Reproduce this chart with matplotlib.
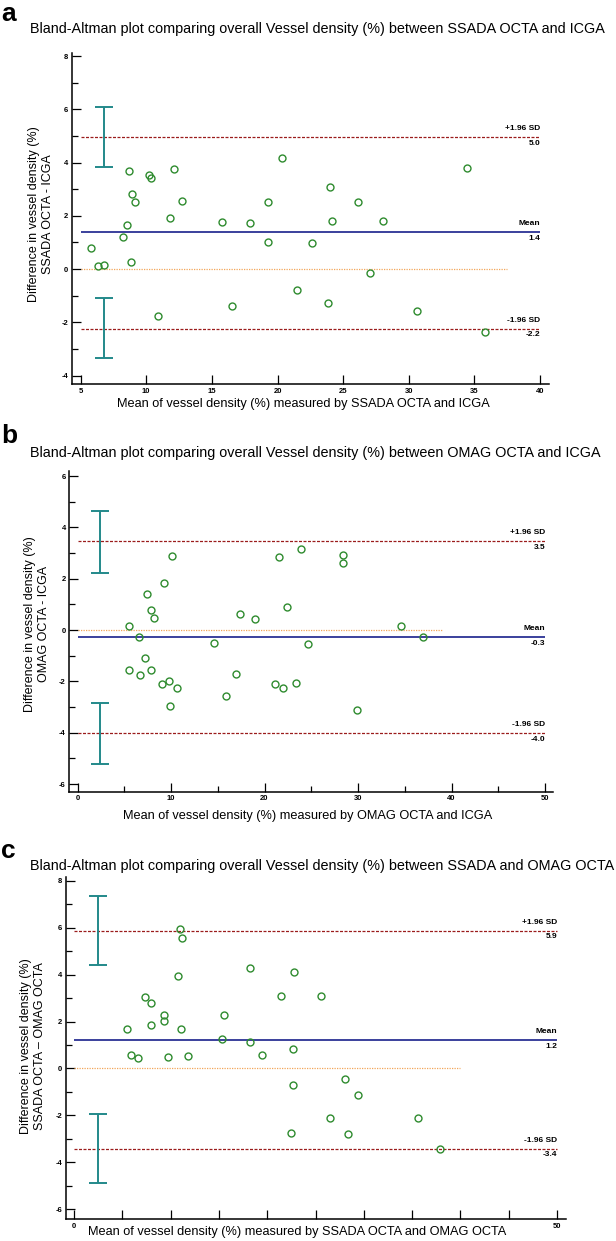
import numpy as np
import matplotlib.pyplot as plt
from matplotlib.ticker import MultipleLocator, FuncFormatter

plt.rcParams['font.family'] = ['Liberation Sans', 'DejaVu Sans']
plt.rcParams['axes.unicode_minus'] = False

W, H = 616, 1241

# Panel a: SSADA OCTA vs ICGA
a_mean = [5.80, 6.34, 6.76, 8.19, 8.54, 8.67, 8.81, 8.95, 9.15, 10.19, 10.39,
          10.90, 11.82, 12.09, 12.70, 15.80, 16.56, 17.93, 19.25, 19.30, 20.32,
          21.47, 22.63, 23.86, 24.00, 24.13, 26.13, 27.04, 28.03, 30.65, 34.45,
          35.77]
a_diff = [0.78, 0.11, 0.14, 1.21, 1.67, 3.69, 0.28, 2.82, 2.51, 3.55, 3.42,
          -1.78, 1.91, 3.76, 2.54, 1.77, -1.38, 1.74, 2.51, 1.00, 4.16,
          -0.80, 0.96, -1.28, 3.08, 1.80, 2.51, -0.14, 1.80, -1.58, 3.79,
          -2.35]
a_stats = [1.38, 4.96, -2.24]          # mean, +1.96 SD, -1.96 SD
a_ci_upper = [3.82, 6.09]
a_ci_lower = [-3.36, -1.10]

# Panel b: OMAG OCTA vs ICGA
b_mean = [5.49, 5.49, 6.58, 6.68, 7.17, 7.46, 7.84, 7.84, 8.18, 9.07, 9.30,
          9.80, 9.91, 10.08, 10.68, 14.61, 15.90, 16.98, 17.34, 19.02, 21.09,
          21.57, 21.93, 22.42, 23.39, 23.95, 24.61, 28.42, 28.42, 29.85, 34.61,
          36.92]
b_diff = [0.15, -1.57, -0.28, -1.74, -1.08, 1.42, 0.77, -1.54, 0.45, -2.12, 1.85,
          -1.99, -2.97, 2.87, -2.24, -0.49, -2.58, -1.71, 0.64, 0.44, -2.09,
          2.83, -2.27, 0.91, -2.05, 3.17, -0.55, 2.93, 2.62, -3.10, 0.17,
          -0.26]
b_stats = [-0.28, 3.46, -4.02]
b_ci_upper = [2.24, 4.62]
b_ci_lower = [-5.24, -2.84]

# Panel c: SSADA OCTA vs OMAG OCTA
c_mean = [5.50, 5.90, 6.64, 7.33, 7.98, 8.02, 9.32, 9.36, 9.73, 10.76, 10.96,
          11.03, 11.17, 11.81, 15.31, 15.51, 18.20, 18.22, 19.50, 21.41, 22.43,
          22.64, 22.72, 22.81, 25.52, 26.47, 28.09, 28.34, 29.40, 35.63, 37.91]
c_diff = [1.70, 0.59, 0.43, 3.04, 1.85, 2.77, 2.28, 2.04, 0.47, 3.94, 5.94,
          1.70, 5.56, 0.55, 1.24, 2.28, 1.11, 4.26, 0.59, 3.07, -2.76,
          -0.69, 0.82, 4.13, 3.07, -2.13, -0.45, -2.79, -1.15, -2.11, -3.45]
c_stats = [1.22, 5.87, -3.42]
c_ci_upper = [4.39, 7.33]
c_ci_lower = [-4.87, -1.93]

titles = [
    'Bland-Altman plot comparing overall Vessel density (%) between SSADA OCTA and ICGA',
    'Bland-Altman plot comparing overall Vessel density (%) between OMAG OCTA and ICGA',
    'Bland-Altman plot comparing overall Vessel density (%) between SSADA and OMAG OCTA',
]
xlabels = [
    'Mean of vessel density (%) measured by SSADA OCTA and ICGA',
    'Mean of vessel density (%) measured by OMAG OCTA and ICGA',
    'Mean of vessel density (%) measured by SSADA OCTA and OMAG OCTA',
]
ylabels = [
    'Difference in vessel density (%)\nSSADA OCTA - ICGA',
    'Difference in vessel density (%)\nOMAG OCTA - ICGA',
    'Difference in vessel density (%)\nSSADA OCTA \u2013 OMAG OCTA',
]


def fx(px):
    return px / W


def fy(py):
    return 1 - py / H


def draw_panel(ax, x, d, stats, ci_up, ci_lo, ci_x, x_start, x_end, zero_end):
    mean, upper, lower = stats
    ax.plot(x, d, 'o', mfc='none', mec='#2e8b2e', ms=5, mew=1.0, zorder=4)
    ax.hlines(mean, x_start, x_end, color='#3a409c', lw=1.4, zorder=3)
    ax.hlines([upper, lower], x_start, x_end, color='#9b1c1c', lw=0.9,
              linestyles=[(0, (2.4, 1.2))], zorder=3)
    ax.hlines(0, x_start, zero_end, color='#f2a65a', lw=0.9,
              linestyles=[(0, (1, 1))], zorder=2)
    # 95% CI of the limits of agreement
    for lo, hi in (ci_up, ci_lo):
        ax.errorbar(ci_x, (lo + hi) / 2, yerr=(hi - lo) / 2, fmt='none',
                    ecolor='#22898a', elinewidth=1.4, capsize=6.7,
                    capthick=1.4, zorder=3)
    kw = dict(textcoords='offset points', ha='right', fontsize=6,
              fontweight='bold')
    for name, v in (('+1.96 SD', upper), ('Mean', mean), ('-1.96 SD', lower)):
        ax.annotate(name, (x_end, v), xytext=(0, 3.5), va='bottom', **kw)
        ax.annotate(f'{v:.1f}', (x_end, v), xytext=(0, -2), va='top', **kw)

    for side in ('top', 'right'):
        ax.spines[side].set_visible(False)
    for side in ('left', 'bottom'):
        ax.spines[side].set_linewidth(1.1)
    ax.tick_params(which='both', direction='in', width=0.9, labelsize=5.5,
                   pad=2.5)
    ax.tick_params(which='major', length=6.5)
    ax.tick_params(which='minor', length=4.5)
    for lab in ax.get_xticklabels() + ax.get_yticklabels():
        lab.set_fontweight('bold')
    ax.yaxis.set_major_locator(MultipleLocator(2))
    ax.yaxis.set_minor_locator(MultipleLocator(1))


def main():
    fig = plt.figure(figsize=(W / 100, H / 100), dpi=100)

    # axes boxes in pixels: left, right, top, bottom
    boxes = [(71.7, 549.2, 53.4, 384.3), (69.1, 553.0, 470.9, 791.7),
             (65.8, 565.7, 877.2, 1219.3)]
    xlims = [(4.32, 40.69), (-0.9, 50.85), (-0.85, 50.9)]
    ylims = [(-4.33, 8.1), (-6.3, 6.2), (-6.43, 8.15)]
    data = [(a_mean, a_diff, a_stats, a_ci_upper, a_ci_lower, 6.75, 5, 40, 37.5),
            (b_mean, b_diff, b_stats, b_ci_upper, b_ci_lower, 2.4, 0, 50, 39),
            (c_mean, c_diff, c_stats, c_ci_upper, c_ci_lower, 2.5, 0, 50, 40)]
    letters = ['a', 'b', 'c']
    letter_y = [21, 443, 858]
    title_y = [33, 456.7, 870]
    xlabel_pos = [(303, 407), (308, 819), (297, 1235.5)]
    ylabel_pos = [(41, 214), (36.7, 624), (33.3, 1045.7)]

    for i in range(3):
        l, r, t, b = boxes[i]
        ax = fig.add_axes([fx(l), fy(b), (r - l) / W, (b - t) / H])
        ax.set_xlim(*xlims[i])
        ax.set_ylim(*ylims[i])
        if i == 0:
            ax.xaxis.set_major_locator(MultipleLocator(5))
        elif i == 1:
            ax.xaxis.set_major_locator(MultipleLocator(10))
            ax.xaxis.set_minor_locator(MultipleLocator(5))
        else:
            ax.xaxis.set_major_locator(MultipleLocator(5))
            ax.xaxis.set_major_formatter(
                FuncFormatter(lambda v, p: f'{v:.0f}' if v in (0, 50) else ''))
        draw_panel(ax, *data[i])

        fig.text(fx(1), fy(letter_y[i]), letters[i], fontsize=19,
                 fontweight='bold', va='baseline')
        fig.text(fx(30), fy(title_y[i]), titles[i], fontsize=10.35,
                 va='baseline')
        fig.text(fx(xlabel_pos[i][0]), fy(xlabel_pos[i][1]), xlabels[i],
                 fontsize=9.2, ha='center', va='baseline')
        fig.text(fx(ylabel_pos[i][0]), fy(ylabel_pos[i][1]), ylabels[i],
                 fontsize=9, ha='center', va='center', rotation=90,
                 multialignment='center')

    fig.savefig('out.png', dpi=100)


if __name__ == '__main__':
    main()
